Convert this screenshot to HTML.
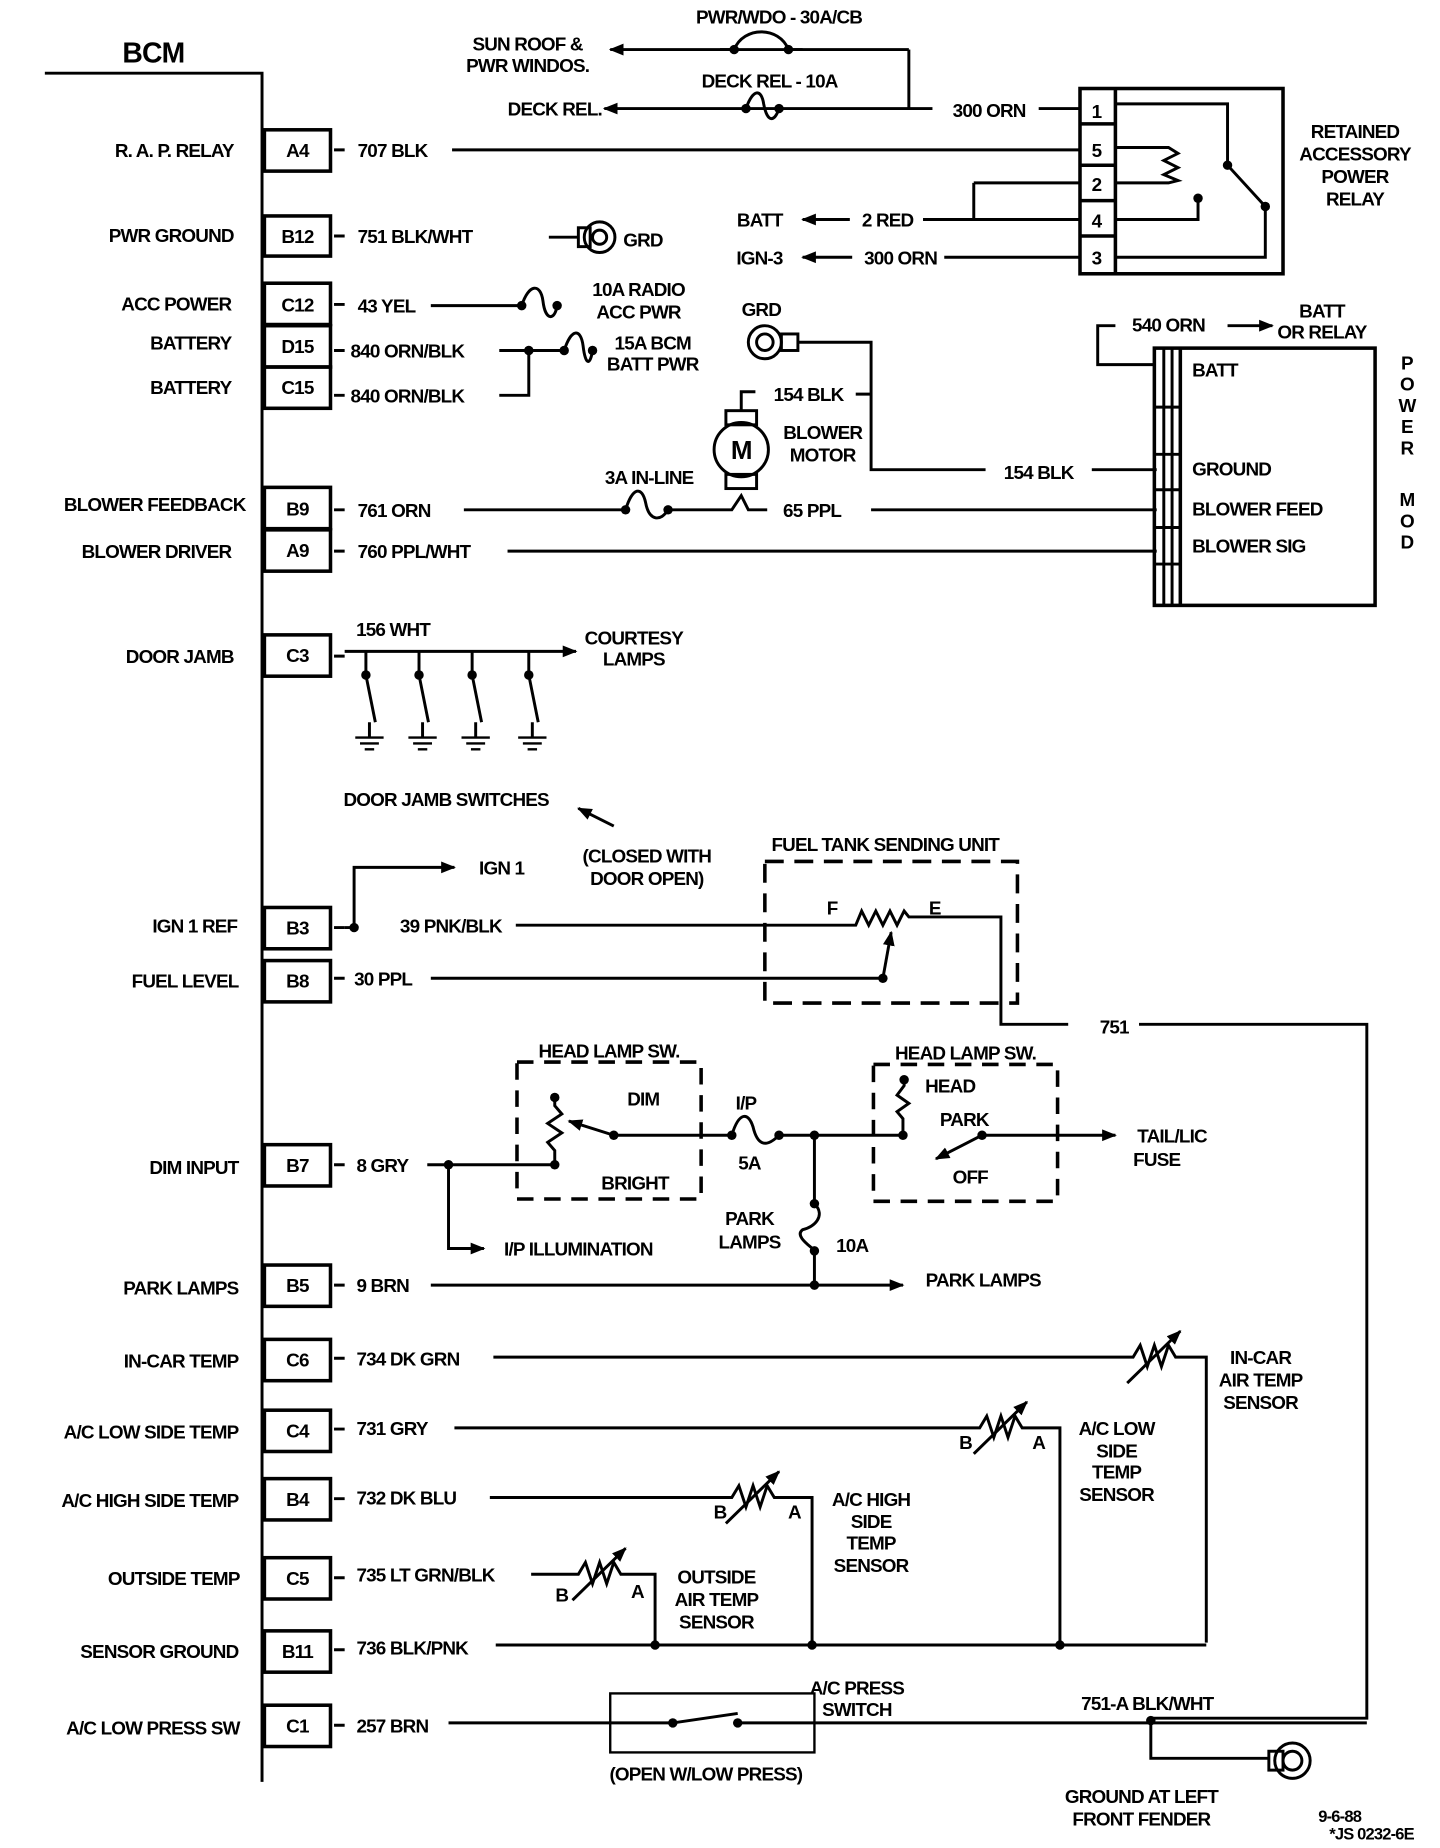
<!DOCTYPE html>
<html><head><meta charset="utf-8"><style>
html,body{margin:0;padding:0;background:#fff;}
svg{display:block;}
text{font-family:"Liberation Sans",sans-serif;font-weight:bold;font-size:16px;fill:#000;letter-spacing:-0.7px;}
.e{text-anchor:end}.m{text-anchor:middle}
</style></head><body>
<svg width="1440" height="1848" viewBox="0 0 1220 1566" preserveAspectRatio="none" xmlns="http://www.w3.org/2000/svg">
<defs><marker id="ar" viewBox="0 0 10 10" refX="9" refY="5" markerWidth="5" markerHeight="5" orient="auto"><path d="M0,1 L10,5 L0,9 Z" fill="#000"/></marker></defs>
<g stroke="#000" stroke-width="2.5" fill="none">
<path d="M38,62 H222 V1510"/>
<g stroke-width="3">
<rect x="224" y="110" width="56" height="35"/><rect x="224" y="183" width="56" height="34"/>
<rect x="224" y="240" width="56" height="35"/><rect x="224" y="276" width="56" height="35"/><rect x="224" y="311" width="56" height="35"/>
<rect x="224" y="413" width="56" height="35"/><rect x="224" y="449" width="56" height="35"/><rect x="224" y="538" width="56" height="35"/>
<rect x="224" y="769" width="56" height="35"/><rect x="224" y="814" width="56" height="35"/><rect x="224" y="970" width="56" height="35"/>
<rect x="224" y="1072" width="56" height="35"/><rect x="224" y="1135" width="56" height="35"/><rect x="224" y="1195" width="56" height="35"/>
<rect x="224" y="1253" width="56" height="35"/><rect x="224" y="1320" width="56" height="35"/><rect x="224" y="1382" width="56" height="35"/><rect x="224" y="1445" width="56" height="35"/>
</g>
<path d="M283,127h9M283,200h9M283,258h9M283,297h9M283,335h9M283,432h9M283,467h9M283,556h9M283,786h9M283,829h9M283,987h9M283,1089h9M283,1151h9M283,1211h9M283,1270h9M283,1337h9M283,1398h9M283,1462h9"/>
<path d="M770,42 H517" marker-end="url(#ar)"/>
<path d="M622,42 C630,20 660,20 668,42" stroke="#fff" stroke-width="4"/>
<path d="M610,42 H624 M666,42 H680" />
<path d="M770,42 V92"/>
<path d="M790,92 H512" marker-end="url(#ar)"/>
<path d="M880,92 H915"/>
<rect x="915" y="75" width="172" height="157" stroke-width="3"/>
<path d="M945,75 V232 M915,105 H945 M915,140 H945 M915,170 H945 M915,200 H945" stroke-width="3"/>
<path d="M945,88 H1040 V140 L1072,175 M945,125 H990 L998,130 L986,136 L998,142 L986,148 L998,153 L990,155 H945 M945,186 H1015 V168 M945,218 H1072 V175"/>
<path d="M383,127 H915 M825,155 H915 M825,155 V186 M782,186 H915 M800,218 H915"/>
<path d="M720,186 H680" marker-end="url(#ar)"/><path d="M722,218 H680" marker-end="url(#ar)"/>
<path d="M465,201 H490"/><rect x="490" y="193" width="10" height="16"/><circle cx="508" cy="201" r="13"/><circle cx="508" cy="201" r="6"/>
<path d="M365,259 H442 M442,259 C448,240 458,240 460,255 C462,272 470,272 472,259"/>
<path d="M423,297 H478 M448,297 V335 H423 M478,297 C484,278 492,278 494,293 C496,310 500,310 502,297"/>
<circle cx="648" cy="290" r="14"/><circle cx="648" cy="290" r="7"/><rect x="662" y="283" width="14" height="14"/>
<path d="M676,290 H738 V398 H835 M925,398 H980 M725,334 H738"/>
<circle cx="628" cy="381" r="23"/><rect x="615" y="348" width="26" height="12"/><rect x="615" y="402" width="26" height="12"/>
<path d="M628,348 V332 H640 M393,432 H530 M530,432 C536,412 544,412 547,426 C550,442 560,442 566,432 H620 L628,420 L634,432 H650 M738,432 H980 M430,467 H980"/>
<rect x="978" y="295" width="187" height="218" stroke-width="3"/>
<path d="M986,295 V513 M993,295 V513 M978,345 H1000 M978,385 H1000 M978,415 H1000 M978,447 H1000 M978,478 H1000" stroke-width="2.5"/>
<path d="M1000,295 V513" stroke-width="3"/>
<path d="M945,276 H930 V309 H978"/><path d="M1040,276 H1078" marker-end="url(#ar)"/>
<path d="M292,552 H488" marker-end="url(#ar)"/>
<path d="M310,552 V572 M355,552 V572 M400,552 V572 M448,552 V572"/>
<path d="M310,572 L318,612 M355,572 L363,612 M400,572 L408,612 M448,572 L456,612"/>
<path d="M313,612 V625 M358,612 V625 M403,612 V625 M451,612 V625"/>
<path d="M301,625 H325 M305,630 H321 M309,635 H317 M346,625 H370 M350,630 H366 M354,635 H362 M391,625 H415 M395,630 H411 M399,635 H407 M439,625 H463 M443,630 H459 M447,635 H455" stroke-width="2"/>
<path d="M520,700 L490,685" marker-end="url(#ar)"/>
<path d="M300,786 V735 H385" marker-end="url(#ar)"/>
<path d="M292,786 H300 M437,784 H725 L730,772 L736,784 L742,772 L748,784 L754,772 L760,784 L766,772 L770,777 H848 V868 H905 M965,868 H1158 V1456 H975 V1490 H1075"/>
<path d="M748,829 L755,790" marker-end="url(#ar)"/>
<path d="M365,829 H748"/>
<rect x="648" y="730" width="214" height="120" stroke-dasharray="16,9" stroke-width="3"/>
<rect x="438" y="900" width="156" height="116" stroke-dasharray="14,9" stroke-width="3"/>
<rect x="740" y="902" width="156" height="116" stroke-dasharray="14,9" stroke-width="3"/>
<path d="M362,987 H470 V975 L464,968 L476,960 L464,952 L476,944 L470,937 V930"/>
<path d="M380,987 V1058 H410" marker-end="url(#ar)"/>
<path d="M520,962 L482,950" marker-end="url(#ar)"/>
<path d="M520,962 H620 C626,942 634,942 638,955 C642,972 650,972 660,962 H765 V948 L760,942 L770,935 L760,928 L766,920 V915"/>
<path d="M896,962 H945" marker-end="url(#ar)"/><path d="M832,962 H896"/>
<path d="M832,962 L793,982" marker-end="url(#ar)"/>
<path d="M690,962 V1020 C700,1030 690,1040 680,1042 C672,1048 690,1058 690,1060 V1089"/>
<path d="M365,1089 H765" marker-end="url(#ar)"/>
<path d="M418,1150 H960 L966,1140 L972,1158 L978,1140 L984,1158 L990,1140 L996,1150 H1022 V1392"/>
<path d="M955,1172 L1000,1128" marker-end="url(#ar)"/>
<path d="M385,1210 H830 L836,1200 L842,1218 L848,1200 L854,1218 L860,1200 L866,1210 H898 V1392"/>
<path d="M825,1232 L870,1188" marker-end="url(#ar)"/>
<path d="M415,1269 H620 L626,1259 L632,1277 L638,1259 L644,1277 L650,1259 L656,1269 H688 V1392"/>
<path d="M615,1291 L660,1247" marker-end="url(#ar)"/>
<path d="M450,1334 H490 L496,1324 L502,1342 L508,1324 L514,1342 L520,1324 L526,1334 H555 V1392"/>
<path d="M485,1356 L530,1312" marker-end="url(#ar)"/>
<path d="M420,1394 H1022"/>
<rect x="517" y="1435" width="173" height="50" stroke-width="2"/>
<path d="M380,1460 H570 L625,1452 M625,1460 H1158"/>
<circle cx="1095" cy="1492" r="15"/><circle cx="1095" cy="1492" r="8"/><rect x="1075" y="1484" width="12" height="16"/>
</g>
<g stroke="#000" stroke-width="2.5" fill="none">
<path d="M622,42 C630,22 660,22 668,42"/>
<path d="M632,92 C638,75 645,75 647,88 C650,104 656,104 660,92"/>
</g>
<g fill="#000">
<circle cx="622" cy="42" r="4"/><circle cx="668" cy="42" r="4"/><circle cx="632" cy="92" r="4"/><circle cx="660" cy="92" r="4"/>
<circle cx="1040" cy="140" r="4"/><circle cx="1072" cy="175" r="4"/><circle cx="1015" cy="168" r="4"/>
<circle cx="442" cy="259" r="4"/><circle cx="472" cy="259" r="4"/><circle cx="448" cy="297" r="4"/><circle cx="478" cy="297" r="4"/><circle cx="502" cy="297" r="4"/>
<circle cx="530" cy="432" r="4"/><circle cx="566" cy="432" r="4"/>
<circle cx="310" cy="572" r="4"/><circle cx="355" cy="572" r="4"/><circle cx="400" cy="572" r="4"/><circle cx="448" cy="572" r="4"/>
<circle cx="300" cy="786" r="4"/><circle cx="748" cy="829" r="4"/>
<circle cx="380" cy="987" r="4"/><circle cx="470" cy="987" r="4"/><circle cx="470" cy="930" r="4"/><circle cx="520" cy="962" r="4"/>
<circle cx="620" cy="962" r="4"/><circle cx="660" cy="962" r="4"/><circle cx="690" cy="962" r="4"/><circle cx="765" cy="962" r="4"/><circle cx="766" cy="915" r="4"/><circle cx="832" cy="962" r="4"/>
<circle cx="690" cy="1020" r="4"/><circle cx="690" cy="1060" r="4"/><circle cx="690" cy="1089" r="4"/>
<circle cx="555" cy="1394" r="4"/><circle cx="688" cy="1394" r="4"/><circle cx="898" cy="1394" r="4"/>
<circle cx="570" cy="1460" r="4"/><circle cx="625" cy="1460" r="4"/><circle cx="975" cy="1458" r="4"/>
</g>
<text x="130" y="53" class="m" style="font-size:24px">BCM</text>
<text x="198" y="133" class="e">R. A. P. RELAY</text>
<text x="198" y="205" class="e">PWR GROUND</text>
<text x="196" y="263" class="e">ACC POWER</text>
<text x="196" y="296" class="e">BATTERY</text>
<text x="196" y="334" class="e">BATTERY</text>
<text x="208" y="433" class="e">BLOWER FEEDBACK</text>
<text x="196" y="473" class="e">BLOWER DRIVER</text>
<text x="198" y="562" class="e">DOOR JAMB</text>
<text x="201" y="790" class="e">IGN 1 REF</text>
<text x="202" y="837" class="e">FUEL LEVEL</text>
<text x="202" y="995" class="e">DIM INPUT</text>
<text x="202" y="1097" class="e">PARK LAMPS</text>
<text x="202" y="1159" class="e">IN-CAR TEMP</text>
<text x="202" y="1219" class="e">A/C LOW SIDE TEMP</text>
<text x="202" y="1277" class="e">A/C HIGH SIDE TEMP</text>
<text x="203" y="1343" class="e">OUTSIDE TEMP</text>
<text x="202" y="1405" class="e">SENSOR GROUND</text>
<text x="203" y="1470" class="e">A/C LOW PRESS SW</text>
<text x="252" y="133" class="m">A4</text><text x="252" y="206" class="m">B12</text><text x="252" y="264" class="m">C12</text>
<text x="252" y="299" class="m">D15</text><text x="252" y="334" class="m">C15</text><text x="252" y="437" class="m">B9</text>
<text x="252" y="472" class="m">A9</text><text x="252" y="561" class="m">C3</text><text x="252" y="792" class="m">B3</text>
<text x="252" y="837" class="m">B8</text><text x="252" y="993" class="m">B7</text><text x="252" y="1095" class="m">B5</text>
<text x="252" y="1158" class="m">C6</text><text x="252" y="1218" class="m">C4</text><text x="252" y="1276" class="m">B4</text>
<text x="252" y="1343" class="m">C5</text><text x="252" y="1405" class="m">B11</text><text x="252" y="1468" class="m">C1</text>
<text x="303" y="133">707 BLK</text>
<text x="303" y="206">751 BLK/WHT</text><text x="528" y="209">GRD</text>
<text x="303" y="265">43 YEL</text>
<text x="297" y="303">840 ORN/BLK</text><text x="297" y="341">840 ORN/BLK</text>
<text x="541" y="251" class="m">10A RADIO</text><text x="541" y="270" class="m">ACC PWR</text>
<text x="553" y="296" class="m">15A BCM</text><text x="553" y="314" class="m">BATT PWR</text>
<text x="660" y="20" class="m">PWR/WDO - 30A/CB</text>
<text x="447" y="43" class="m">SUN ROOF &amp;</text><text x="447" y="61" class="m">PWR WINDOS.</text>
<text x="652" y="74" class="m">DECK REL - 10A</text>
<text x="510" y="98" class="e">DECK REL.</text>
<text x="838" y="99" class="m">300 ORN</text>
<text x="929" y="100" class="m">1</text><text x="929" y="133" class="m">5</text><text x="929" y="162" class="m">2</text><text x="929" y="193" class="m">4</text><text x="929" y="224" class="m">3</text>
<text x="1148" y="117" class="m">RETAINED</text><text x="1148" y="136" class="m">ACCESSORY</text><text x="1148" y="155" class="m">POWER</text><text x="1148" y="174" class="m">RELAY</text>
<text x="752" y="192" class="m">2 RED</text><text x="663" y="192" class="e">BATT</text>
<text x="763" y="224" class="m">300 ORN</text><text x="663" y="224" class="e">IGN-3</text>
<text x="645" y="268" class="m">GRD</text>
<text x="685" y="340" class="m">154 BLK</text>
<text x="628" y="389" class="m" style="font-size:22px">M</text>
<text x="697" y="372" class="m">BLOWER</text><text x="697" y="391" class="m">MOTOR</text>
<text x="880" y="406" class="m">154 BLK</text>
<text x="550" y="410" class="m">3A IN-LINE</text>
<text x="303" y="438">761 ORN</text><text x="688" y="438" class="m">65 PPL</text>
<text x="303" y="473">760 PPL/WHT</text>
<text x="990" y="281" class="m">540 ORN</text>
<text x="1120" y="269" class="m">BATT</text><text x="1120" y="287" class="m">OR RELAY</text>
<text x="1010" y="319">BATT</text><text x="1010" y="403">GROUND</text><text x="1010" y="437">BLOWER FEED</text><text x="1010" y="468">BLOWER SIG</text>
<g style="font-size:15px">
<text x="1192" y="313" class="m">P</text><text x="1192" y="331" class="m">O</text><text x="1192" y="349" class="m">W</text><text x="1192" y="367" class="m">E</text><text x="1192" y="385" class="m">R</text>
<text x="1192" y="429" class="m">M</text><text x="1192" y="447" class="m">O</text><text x="1192" y="465" class="m">D</text>
</g>
<text x="333" y="539" class="m">156 WHT</text>
<text x="537" y="546" class="m">COURTESY</text><text x="537" y="564" class="m">LAMPS</text>
<text x="378" y="683" class="m">DOOR JAMB SWITCHES</text>
<text x="548" y="731" class="m">(CLOSED WITH</text><text x="548" y="750" class="m">DOOR OPEN)</text>
<text x="425" y="741" class="m">IGN 1</text>
<text x="750" y="721" class="m">FUEL TANK SENDING UNIT</text>
<text x="705" y="775" class="m">F</text><text x="792" y="775" class="m">E</text>
<text x="382" y="790" class="m">39 PNK/BLK</text>
<text x="300" y="835">30 PPL</text>
<text x="944" y="876" class="m">751</text>
<text x="516" y="896" class="m">HEAD LAMP SW.</text><text x="818" y="898" class="m">HEAD LAMP SW.</text>
<text x="545" y="937" class="m">DIM</text><text x="538" y="1008" class="m">BRIGHT</text>
<text x="632" y="940" class="m">I/P</text><text x="635" y="991" class="m">5A</text>
<text x="805" y="926" class="m">HEAD</text><text x="817" y="954" class="m">PARK</text><text x="822" y="1003" class="m">OFF</text>
<text x="993" y="968" class="m">TAIL/LIC</text><text x="980" y="988" class="m">FUSE</text>
<text x="302" y="993">8 GRY</text>
<text x="490" y="1064" class="m">I/P ILLUMINATION</text>
<text x="635" y="1038" class="m">PARK</text><text x="635" y="1058" class="m">LAMPS</text><text x="722" y="1061" class="m">10A</text>
<text x="302" y="1095">9 BRN</text>
<text x="833" y="1090" class="m">PARK LAMPS</text>
<text x="302" y="1157">734 DK GRN</text>
<text x="1068" y="1156" class="m">IN-CAR</text><text x="1068" y="1175" class="m">AIR TEMP</text><text x="1068" y="1194" class="m">SENSOR</text>
<text x="302" y="1216">731 GRY</text>
<text x="818" y="1228" class="m">B</text><text x="880" y="1228" class="m">A</text>
<text x="946" y="1216" class="m">A/C LOW</text><text x="946" y="1235" class="m">SIDE</text><text x="946" y="1253" class="m">TEMP</text><text x="946" y="1272" class="m">SENSOR</text>
<text x="302" y="1275">732 DK BLU</text>
<text x="610" y="1287" class="m">B</text><text x="673" y="1287" class="m">A</text>
<text x="738" y="1276" class="m">A/C HIGH</text><text x="738" y="1295" class="m">SIDE</text><text x="738" y="1313" class="m">TEMP</text><text x="738" y="1332" class="m">SENSOR</text>
<text x="302" y="1340">735 LT GRN/BLK</text>
<text x="476" y="1357" class="m">B</text><text x="540" y="1354" class="m">A</text>
<text x="607" y="1342" class="m">OUTSIDE</text><text x="607" y="1361" class="m">AIR TEMP</text><text x="607" y="1380" class="m">SENSOR</text>
<text x="302" y="1402">736 BLK/PNK</text>
<text x="302" y="1468">257 BRN</text>
<text x="726" y="1436" class="m">A/C PRESS</text><text x="726" y="1454" class="m">SWITCH</text>
<text x="972" y="1449" class="m">751-A BLK/WHT</text>
<text x="598" y="1509" class="m">(OPEN W/LOW PRESS)</text>
<text x="967" y="1528" class="m">GROUND AT LEFT</text><text x="967" y="1547" class="m">FRONT FENDER</text>
<text x="1135" y="1544" class="m" style="font-size:14px">9-6-88</text><text x="1162" y="1559" class="m" style="font-size:14px">*JS 0232-6E</text>
</svg>
</body></html>
